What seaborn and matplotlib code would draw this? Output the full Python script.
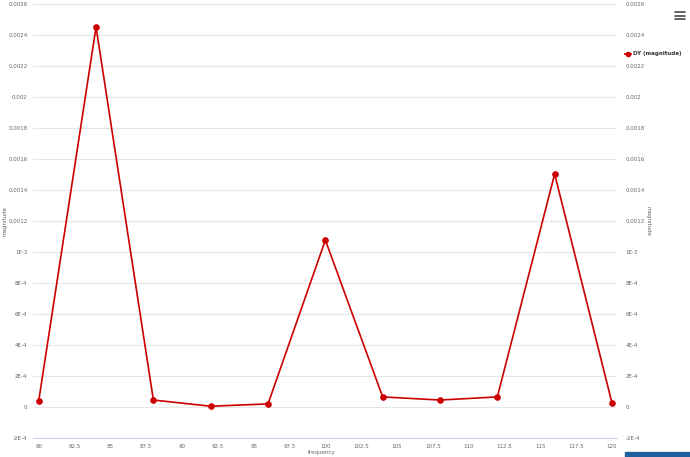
import numpy as np
import pandas as pd
import seaborn as sns
import matplotlib.pyplot as plt
from matplotlib.lines import Line2D
from matplotlib.patches import Rectangle

# data
frequency = [80, 84, 88, 92, 96, 100, 104, 108, 112, 116, 120]
magnitude = [0.00004, 0.002452, 0.000045, 0.000005, 0.00002, 0.001077,
             0.000065, 0.000045, 0.000065, 0.001503, 0.000026]
y_ticks = [-0.0002, 0, 0.0002, 0.0004, 0.0006, 0.0008, 0.001, 0.0012,
           0.0014, 0.0016, 0.0018, 0.002, 0.0022, 0.0024, 0.0026]
y_labels = ["-2E-4", "0", "2E-4", "4E-4", "6E-4", "8E-4", "1E-3", "0.0012",
            "0.0014", "0.0016", "0.0018", "0.002", "0.0022", "0.0024", "0.0026"]
x_ticks = [80, 82.5, 85, 87.5, 90, 92.5, 95, 97.5, 100, 102.5, 105,
           107.5, 110, 112.5, 115, 117.5, 120]
x_labels = ["80", "82.5", "85", "87.5", "90", "92.5", "95", "97.5", "100",
            "102.5", "105", "107.5", "110", "112.5", "115", "117.5", "120"]

df = pd.DataFrame({"frequency": frequency, "magnitude": magnitude})

sns.set_style("white")
plt.rcParams['font.family'] = ['DejaVu Sans']

fig = plt.figure(figsize=(6.9, 4.57), dpi=100)
ax = fig.add_axes([33 / 690, 1 - 438 / 457, 584 / 690, 434 / 457])

red = "#cc0000"
sns.lineplot(data=df, x="frequency", y="magnitude", ax=ax, color=red,
             marker="o", markersize=4, markeredgecolor=red, linewidth=1.2)

fs = 4
ax.set_xlim(79.6, 120.35)
ax.set_ylim(-0.0002, 0.0026)
ax.set_yticks(y_ticks)
ax.set_yticklabels(y_labels)
ax.set_xticks(x_ticks)
ax.set_xticklabels(x_labels)
ax.grid(axis="y", color="#e6e6e6", linewidth=0.8)
ax.set_axisbelow(True)
for s in ["top", "left", "right"]:
    ax.spines[s].set_visible(False)
ax.spines["bottom"].set_color("#ccd6eb")
ax.tick_params(axis="x", colors="#ccd6eb", labelcolor="#666666", labelsize=fs,
               length=3, width=0.8, direction="out", pad=1.5)
ax.tick_params(axis="y", length=0, labelsize=fs, labelcolor="#666666", pad=4)
ax.set_xlabel("frequency", fontsize=fs, color="#666666")
ax.xaxis.set_label_coords((322 - 33) / 584, -0.028)
ax.set_ylabel("magnitude", fontsize=fs, color="#666666")
ax.yaxis.set_label_coords(-0.044, 0.5)

ax2 = ax.twinx()
ax2.set_ylim(ax.get_ylim())
ax2.set_yticks(y_ticks)
ax2.set_yticklabels(y_labels, ha="left")
ax2.tick_params(axis="y", length=0, labelsize=fs, labelcolor="#666666", pad=6)
for s in ["top", "left", "right", "bottom"]:
    ax2.spines[s].set_visible(False)
ax2.set_ylabel("magnitude", fontsize=fs, color="#666666", rotation=270,
               va="center")
ax2.yaxis.set_label_coords((648 - 33) / 584, 0.5)

handle = Line2D([], [], color=red, marker="o", markersize=3, linewidth=1.5)
fig.legend([handle], ["DY (magnitude)"], loc="center left",
           bbox_to_anchor=(620 / 690, 1 - 54 / 457), frameon=False,
           prop={"size": fs, "weight": "bold"}, handlelength=1.1,
           handletextpad=0.4, labelcolor="#333333")

# menu icon and button
for yy in [12, 15.5, 19]:
    fig.add_artist(Line2D([675 / 690, 685 / 690], [1 - yy / 457] * 2,
                          color="#555555", linewidth=1.3))
fig.add_artist(Rectangle((625 / 690, 0), 65 / 690, 5 / 457,
                         color="#1f5f9e", transform=fig.transFigure))

fig.savefig("out.png", dpi=100)
